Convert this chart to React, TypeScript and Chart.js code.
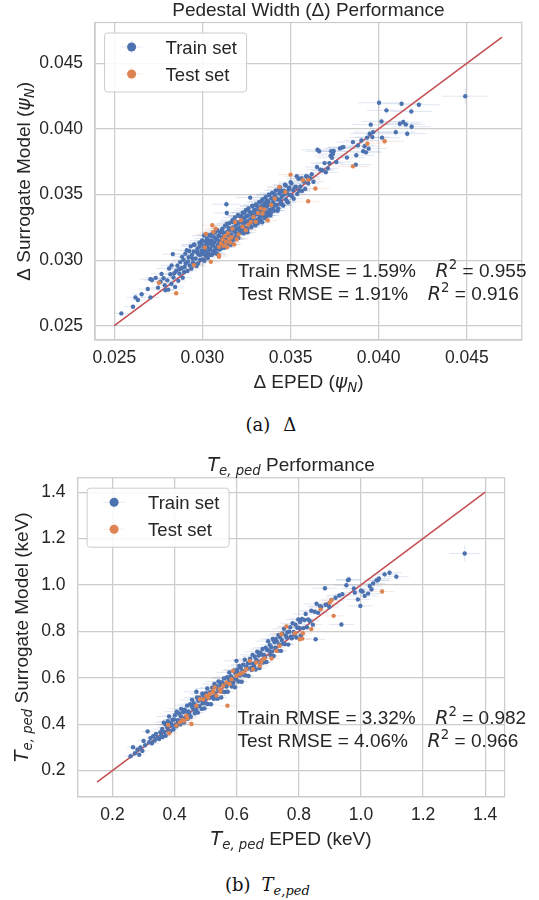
import React, { useEffect, useRef } from 'react';
import { Chart, registerables } from 'chart.js';

Chart.register(...registerables);

// ---------------- DATA: Pedestal width (Delta) ----------------
// each point: [EPED value, surrogate value, x error, y error]
const deltaTrain: number[][] = [
  [0.02540,0.02594,0.0004,0.0001],[0.02606,0.02645,0.0005,0.0002],[0.02620,0.02716,0.0005,0.0002],[0.02634,0.02696,0.0004,0.0001],
  [0.02655,0.02740,0.0005,0.0002],[0.02690,0.02780,0.0005,0.0002],[0.02735,0.02865,0.0006,0.0002],[0.02768,0.02895,0.0006,0.0002],
  [0.02790,0.02770,0.0005,0.0001],[0.02825,0.02960,0.0006,0.0002],[0.02840,0.02900,0.0005,0.0002],[0.02868,0.02930,0.0006,0.0002],
  [0.02885,0.03025,0.0006,0.0002],[0.02896,0.02910,0.0005,0.0002],[0.02903,0.03048,0.0007,0.0002],[0.02918,0.02990,0.0006,0.0002],
  [0.02925,0.03070,0.0006,0.0002],[0.02937,0.02935,0.0005,0.0001],[0.02944,0.03012,0.0006,0.0002],
  [0.02705,0.02716,0.0005,0.0001],[0.02705,0.02855,0.0006,0.0002],[0.02714,0.02848,0.0005,0.0002],[0.02748,0.02790,0.0004,0.0001],
  [0.02762,0.02835,0.0005,0.0002],[0.02779,0.02862,0.0006,0.0002],[0.02786,0.02808,0.0004,0.0001],[0.02801,0.02846,0.0005,0.0002],
  [0.02806,0.02775,0.0005,0.0001],[0.02811,0.02936,0.0007,0.0002],[0.02818,0.02892,0.0006,0.0002],[0.02824,0.02820,0.0004,0.0001],
  [0.02832,0.03046,0.0006,0.0002],[0.02836,0.02868,0.0005,0.0002],[0.02845,0.02796,0.0005,0.0001],[0.02851,0.02918,0.0006,0.0002],
  [0.02858,0.02958,0.0005,0.0002],[0.02863,0.02842,0.0004,0.0001],[0.02870,0.02897,0.0006,0.0002],[0.02874,0.02985,0.0005,0.0002],
  [0.02882,0.02938,0.0006,0.0002],[0.02888,0.02866,0.0005,0.0001],[0.02893,0.03002,0.0006,0.0002],[0.02899,0.02948,0.0005,0.0002],
  [0.02905,0.02975,0.0006,0.0002],[0.02911,0.03076,0.0007,0.0002],[0.02915,0.02918,0.0005,0.0001],[0.02922,0.03022,0.0006,0.0002],
  [0.02928,0.02960,0.0005,0.0002],[0.02934,0.03105,0.0006,0.0002],[0.02940,0.03040,0.0006,0.0002],[0.02946,0.02982,0.0005,0.0001],
  [0.02951,0.03066,0.0006,0.0002],[0.02955,0.03118,0.0007,0.0002],[0.02962,0.03012,0.0005,0.0002],[0.02967,0.02955,0.0005,0.0001],
  [0.02971,0.03085,0.0006,0.0002],[0.02978,0.03045,0.0006,0.0002],[0.02983,0.03132,0.0006,0.0002],[0.02988,0.03002,0.0005,0.0001],
  [0.02994,0.03070,0.0006,0.0002],[0.02998,0.03150,0.0007,0.0002],[0.03003,0.03048,0.0006,0.0002],[0.03007,0.03108,0.0005,0.0002],
  [0.03011,0.02995,0.0005,0.0001],[0.03015,0.03142,0.0006,0.0002],[0.03018,0.03072,0.0006,0.0002],[0.03022,0.03035,0.0005,0.0001],
  [0.03026,0.03165,0.0007,0.0002],[0.03029,0.03098,0.0006,0.0002],[0.03033,0.03058,0.0005,0.0002],[0.03037,0.03128,0.0006,0.0002],
  [0.03040,0.03190,0.0007,0.0002],[0.03044,0.03082,0.0005,0.0002],[0.03047,0.03040,0.0005,0.0001],[0.03051,0.03150,0.0006,0.0002],
  [0.03055,0.03112,0.0006,0.0002],[0.03058,0.03205,0.0007,0.0002],[0.03062,0.03068,0.0005,0.0001],[0.03066,0.03135,0.0006,0.0002],
  [0.03069,0.03172,0.0006,0.0002],[0.03073,0.03095,0.0005,0.0002],[0.03077,0.03052,0.0005,0.0001],[0.03080,0.03158,0.0006,0.0002],
  [0.03084,0.03228,0.0007,0.0002],[0.03088,0.03118,0.0006,0.0002],[0.03091,0.03185,0.0006,0.0002],[0.03095,0.03080,0.0005,0.0001],
  [0.03098,0.03145,0.0006,0.0002],[0.03102,0.03212,0.0006,0.0002],[0.03106,0.03108,0.0005,0.0002],[0.03110,0.03172,0.0006,0.0002],
  [0.03113,0.03240,0.0007,0.0002],[0.03117,0.03135,0.0005,0.0002],[0.03120,0.03095,0.0005,0.0001],[0.03124,0.03198,0.0006,0.0002],
  [0.03128,0.03262,0.0007,0.0002],[0.03131,0.03158,0.0006,0.0002],[0.03136,0.03426,0.0008,0.0003],[0.03138,0.03360,0.0007,0.0002],
  [0.03141,0.03215,0.0006,0.0002],[0.03145,0.03120,0.0005,0.0001],[0.03148,0.03182,0.0006,0.0002],[0.03152,0.03282,0.0007,0.0002],
  [0.03155,0.03148,0.0005,0.0002],[0.03159,0.03232,0.0006,0.0002],[0.03163,0.03195,0.0006,0.0002],[0.03166,0.03140,0.0005,0.0001],
  [0.03170,0.03305,0.0007,0.0002],[0.03173,0.03250,0.0006,0.0002],[0.03177,0.03170,0.0005,0.0002],[0.03181,0.03218,0.0006,0.0002],
  [0.03184,0.03325,0.0007,0.0002],[0.03188,0.03160,0.0005,0.0001],[0.03191,0.03268,0.0006,0.0002],[0.03195,0.03235,0.0006,0.0002],
  [0.03199,0.03190,0.0005,0.0002],[0.03203,0.03342,0.0007,0.0002],[0.03206,0.03285,0.0006,0.0002],[0.03210,0.03210,0.0005,0.0001],
  [0.03213,0.03252,0.0006,0.0002],[0.03217,0.03335,0.0007,0.0002],[0.03221,0.03300,0.0006,0.0002],[0.03224,0.03228,0.0005,0.0002],
  [0.03228,0.03362,0.0007,0.0002],[0.03232,0.03272,0.0006,0.0002],[0.03235,0.03205,0.0005,0.0001],[0.03239,0.03318,0.0006,0.0002],
  [0.03243,0.03245,0.0006,0.0002],[0.03246,0.03380,0.0007,0.0002],[0.03250,0.03290,0.0006,0.0002],[0.03254,0.03232,0.0005,0.0001],
  [0.03257,0.03338,0.0006,0.0002],[0.03261,0.03395,0.0007,0.0002],[0.03265,0.03268,0.0005,0.0002],[0.03271,0.03477,0.0008,0.0002],
  [0.03273,0.03312,0.0006,0.0002],[0.03277,0.03250,0.0005,0.0001],[0.03281,0.03358,0.0006,0.0002],[0.03284,0.03410,0.0007,0.0002],
  [0.03288,0.03290,0.0005,0.0002],[0.03292,0.03332,0.0006,0.0002],[0.03296,0.03270,0.0005,0.0001],[0.03299,0.03378,0.0006,0.0002],
  [0.03303,0.03425,0.0007,0.0002],[0.03306,0.03305,0.0005,0.0002],[0.03310,0.03352,0.0006,0.0002],[0.03314,0.03282,0.0005,0.0001],
  [0.03318,0.03398,0.0006,0.0002],[0.03321,0.03442,0.0007,0.0002],[0.03325,0.03325,0.0005,0.0002],[0.03329,0.03370,0.0006,0.0002],
  [0.03332,0.03300,0.0005,0.0001],[0.03336,0.03415,0.0006,0.0002],[0.03340,0.03462,0.0007,0.0002],[0.03343,0.03345,0.0005,0.0002],
  [0.03347,0.03390,0.0006,0.0002],[0.03351,0.03322,0.0005,0.0001],[0.03354,0.03432,0.0006,0.0002],[0.03358,0.03480,0.0007,0.0002],
  [0.03362,0.03362,0.0005,0.0002],[0.03365,0.03408,0.0006,0.0002],[0.03369,0.03340,0.0005,0.0001],[0.03373,0.03450,0.0006,0.0002],
  [0.03376,0.03498,0.0007,0.0002],[0.03380,0.03382,0.0005,0.0002],[0.03384,0.03425,0.0006,0.0002],[0.03387,0.03358,0.0005,0.0001],
  [0.03391,0.03470,0.0006,0.0002],[0.03395,0.03512,0.0007,0.0002],[0.03398,0.03400,0.0005,0.0002],[0.03402,0.03442,0.0006,0.0002],
  [0.03407,0.03378,0.0005,0.0001],[0.03412,0.03490,0.0006,0.0002],[0.03416,0.03532,0.0007,0.0002],[0.03421,0.03420,0.0005,0.0002],
  [0.03426,0.03462,0.0006,0.0002],[0.03431,0.03395,0.0005,0.0001],[0.03436,0.03508,0.0006,0.0002],[0.03441,0.03555,0.0007,0.0002],
  [0.03446,0.03440,0.0005,0.0002],[0.03451,0.03485,0.0006,0.0002],[0.03457,0.03418,0.0005,0.0001],[0.03462,0.03530,0.0006,0.0002],
  [0.03468,0.03575,0.0007,0.0002],[0.03474,0.03462,0.0005,0.0002],[0.03480,0.03510,0.0006,0.0002],[0.03486,0.03440,0.0005,0.0001],
  [0.03492,0.03552,0.0006,0.0002],[0.03500,0.03595,0.0007,0.0002],[0.03508,0.03488,0.0005,0.0002],[0.03515,0.03535,0.0006,0.0002],
  [0.03530,0.03560,0.0006,0.0002],[0.03538,0.03505,0.0005,0.0001],[0.03545,0.03620,0.0007,0.0002],[0.03556,0.03562,0.0006,0.0002],
  [0.03565,0.03528,0.0005,0.0002],[0.03575,0.03600,0.0006,0.0002],[0.03588,0.03640,0.0007,0.0002],[0.03600,0.03585,0.0006,0.0002],
  [0.03610,0.03625,0.0006,0.0002],[0.03620,0.03655,0.0007,0.0002],[0.03630,0.03598,0.0006,0.0002],
  // denser core
  [0.02952,0.03117,0.0007,0.0002],[0.02959,0.02967,0.0005,0.0002],[0.02970,0.03061,0.0006,0.0002],[0.02975,0.02975,0.0005,0.0001],
  [0.02984,0.03102,0.0006,0.0002],[0.02986,0.03038,0.0005,0.0002],[0.02992,0.03132,0.0007,0.0002],[0.03001,0.03006,0.0005,0.0001],
  [0.03004,0.03073,0.0006,0.0002],[0.03009,0.03187,0.0007,0.0002],[0.03016,0.03037,0.0005,0.0002],[0.03021,0.03113,0.0006,0.0002],
  [0.03031,0.03017,0.0005,0.0001],[0.03036,0.03148,0.0006,0.0002],[0.03043,0.03086,0.0005,0.0002],[0.03049,0.03186,0.0007,0.0002],
  [0.03053,0.03040,0.0005,0.0001],[0.03060,0.03120,0.0006,0.0002],[0.03064,0.03055,0.0005,0.0002],[0.03071,0.03211,0.0007,0.0002],
  [0.03075,0.03084,0.0005,0.0002],[0.03082,0.03158,0.0006,0.0002],[0.03086,0.03045,0.0005,0.0001],[0.03093,0.03189,0.0006,0.0002],
  [0.03097,0.03137,0.0006,0.0002],[0.03104,0.03086,0.0005,0.0002],[0.03108,0.03223,0.0007,0.0002],[0.03115,0.03134,0.0005,0.0002],
  [0.03119,0.03210,0.0006,0.0002],[0.03126,0.03096,0.0005,0.0001],[0.03133,0.03196,0.0006,0.0002],[0.03139,0.03275,0.0007,0.0002],
  [0.03143,0.03143,0.0005,0.0002],[0.03149,0.03246,0.0006,0.0002],[0.03157,0.03184,0.0006,0.0002],[0.03161,0.03117,0.0005,0.0001],
  [0.03168,0.03239,0.0006,0.0002],[0.03172,0.03290,0.0007,0.0002],[0.03179,0.03160,0.0005,0.0002],[0.03183,0.03231,0.0006,0.0002],
  [0.03189,0.03293,0.0007,0.0002],[0.03194,0.03197,0.0005,0.0002],[0.03201,0.03340,0.0007,0.0002],[0.03204,0.03168,0.0005,0.0001],
  [0.03211,0.03290,0.0006,0.0002],[0.03216,0.03238,0.0006,0.0002],[0.03222,0.03334,0.0007,0.0002],[0.03227,0.03210,0.0005,0.0001],
  [0.03233,0.03286,0.0006,0.0002],[0.03238,0.03362,0.0007,0.0002],[0.03244,0.03246,0.0005,0.0002],[0.03249,0.03335,0.0006,0.0002],
  [0.03256,0.03212,0.0005,0.0001],[0.03262,0.03298,0.0006,0.0002],[0.03268,0.03368,0.0007,0.0002],[0.03272,0.03257,0.0005,0.0002],
  [0.03279,0.03347,0.0006,0.0002],[0.03283,0.03415,0.0007,0.0002],[0.03289,0.03296,0.0005,0.0002],[0.03294,0.03383,0.0006,0.0002],
  [0.03301,0.03265,0.0005,0.0001],[0.03305,0.03352,0.0006,0.0002],[0.03311,0.03411,0.0007,0.0002],[0.03317,0.03297,0.0005,0.0002],
  [0.03323,0.03373,0.0006,0.0002],[0.03328,0.03332,0.0005,0.0002],[0.03334,0.03448,0.0007,0.0002],[0.03339,0.03288,0.0005,0.0001],
  [0.03345,0.03412,0.0006,0.0002],[0.03352,0.03380,0.0006,0.0002],[0.03357,0.03325,0.0005,0.0001],[0.03363,0.03453,0.0007,0.0002],
  [0.03368,0.03361,0.0005,0.0002],[0.03374,0.03421,0.0006,0.0002],[0.03379,0.03496,0.0007,0.0002],[0.03386,0.03341,0.0005,0.0001],
  [0.03391,0.03423,0.0006,0.0002],[0.03397,0.03471,0.0006,0.0002],[0.03403,0.03378,0.0005,0.0002],[0.03409,0.03504,0.0007,0.0002],
  [0.03414,0.03417,0.0005,0.0002],[0.03421,0.03470,0.0006,0.0002],[0.03427,0.03376,0.0005,0.0001],[0.03433,0.03537,0.0007,0.0002],
  [0.03439,0.03462,0.0006,0.0002],[0.03445,0.03428,0.0005,0.0002],[0.03452,0.03526,0.0006,0.0002],[0.03459,0.03416,0.0005,0.0001],
  [0.03466,0.03502,0.0006,0.0002],[0.03473,0.03569,0.0007,0.0002],[0.03481,0.03446,0.0005,0.0002],[0.03489,0.03539,0.0006,0.0002],
  [0.03497,0.03497,0.0005,0.0002],[0.03505,0.03585,0.0007,0.0002],[0.03518,0.03468,0.0005,0.0002],[0.03526,0.03556,0.0006,0.0002],
  [0.03535,0.03640,0.0007,0.0002],[0.03549,0.03529,0.0006,0.0002],[0.03562,0.03622,0.0006,0.0002],[0.03583,0.03543,0.0006,0.0002],
  [0.03596,0.03636,0.0007,0.0002],
  // sparse upper part
  [0.03653,0.03842,0.0009,0.0002],[0.03662,0.03830,0.0008,0.0002],[0.03650,0.03710,0.0007,0.0002],[0.03668,0.03690,0.0008,0.0002],
  [0.03680,0.03685,0.0006,0.0002],[0.03693,0.03740,0.0008,0.0002],[0.03700,0.03670,0.0007,0.0002],[0.03712,0.03700,0.0006,0.0002],
  [0.03720,0.03740,0.0008,0.0002],[0.03727,0.03795,0.0009,0.0002],[0.03735,0.03780,0.0008,0.0002],[0.03740,0.03810,0.0008,0.0002],
  [0.03730,0.03830,0.0009,0.0002],[0.03745,0.03832,0.0008,0.0002],[0.03760,0.03748,0.0008,0.0002],[0.03780,0.03852,0.0009,0.0002],
  [0.03790,0.03858,0.0008,0.0002],[0.03800,0.03862,0.0009,0.0002],[0.03820,0.03782,0.0010,0.0002],[0.03854,0.03900,0.0009,0.0002],
  [0.03870,0.03728,0.0009,0.0002],[0.03873,0.03800,0.0010,0.0002],[0.03882,0.03875,0.0009,0.0002],[0.03902,0.03913,0.0010,0.0003],
  [0.03912,0.03830,0.0010,0.0002],[0.03920,0.03868,0.0009,0.0002],[0.03928,0.03822,0.0009,0.0002],[0.03934,0.03934,0.0010,0.0003],
  [0.03943,0.03850,0.0010,0.0002],[0.03949,0.03964,0.0011,0.0003],[0.03955,0.04033,0.0011,0.0003],[0.03964,0.03938,0.0010,0.0003],
  [0.03968,0.03976,0.0011,0.0003],[0.04002,0.04200,0.0012,0.0004],[0.04016,0.04058,0.0011,0.0003],[0.04019,0.03934,0.0010,0.0003],
  [0.04044,0.04142,0.0011,0.0003],[0.04097,0.03976,0.0011,0.0003],[0.04120,0.04040,0.0011,0.0003],[0.04130,0.04193,0.0012,0.0003],
  [0.04139,0.04053,0.0011,0.0003],[0.04154,0.04035,0.0011,0.0003],[0.04162,0.03964,0.0011,0.0003],[0.04185,0.04134,0.0012,0.0003],
  [0.04187,0.04017,0.0011,0.0003],[0.04228,0.04185,0.0012,0.0003],[0.04491,0.04250,0.0013,0.0006],
];
const deltaTest: number[][] = [
  [0.02753,0.02827,0.0005,0.0002],[0.02851,0.02747,0.0005,0.0001],[0.02952,0.02962,0.0006,0.0002],[0.03014,0.03097,0.0006,0.0002],
  [0.03020,0.03200,0.0006,0.0002],[0.03048,0.02987,0.0005,0.0002],[0.03056,0.03266,0.0006,0.0002],[0.03062,0.03215,0.0006,0.0002],
  [0.03075,0.03240,0.0006,0.0002],[0.03093,0.03038,0.0005,0.0002],[0.03094,0.03101,0.0006,0.0002],[0.03094,0.03025,0.0005,0.0002],
  [0.03105,0.03130,0.0006,0.0002],[0.03115,0.03160,0.0006,0.0002],[0.03120,0.03110,0.0005,0.0002],[0.03128,0.03185,0.0006,0.0002],
  [0.03135,0.03140,0.0006,0.0002],[0.03140,0.03100,0.0005,0.0002],[0.03145,0.03205,0.0006,0.0002],[0.03151,0.03165,0.0006,0.0002],
  [0.03158,0.03135,0.0005,0.0002],[0.03165,0.03175,0.0006,0.0002],[0.03170,0.03240,0.0006,0.0002],[0.03180,0.03120,0.0005,0.0002],
  [0.03185,0.03290,0.0006,0.0002],[0.03195,0.03160,0.0006,0.0002],[0.03205,0.03195,0.0006,0.0002],[0.03218,0.03304,0.0006,0.0002],
  [0.03228,0.03255,0.0006,0.0002],[0.03246,0.03228,0.0006,0.0002],[0.03260,0.03270,0.0006,0.0002],[0.03275,0.03292,0.0006,0.0002],
  [0.03290,0.03330,0.0006,0.0002],[0.03303,0.03292,0.0006,0.0002],[0.03315,0.03360,0.0006,0.0002],[0.03330,0.03395,0.0006,0.0002],
  [0.03341,0.03356,0.0006,0.0002],[0.03350,0.03386,0.0006,0.0002],[0.03370,0.03304,0.0006,0.0002],[0.03390,0.03420,0.0006,0.0002],
  [0.03410,0.03470,0.0006,0.0002],[0.03436,0.03558,0.0007,0.0002],[0.03470,0.03520,0.0007,0.0002],[0.03500,0.03652,0.0007,0.0002],
  [0.03570,0.03610,0.0007,0.0002],[0.03600,0.03449,0.0007,0.0002],[0.03600,0.03614,0.0007,0.0002],[0.03641,0.03546,0.0008,0.0002],
  [0.03854,0.03715,0.0009,0.0002],[0.03936,0.03888,0.0010,0.0003],[0.04034,0.03906,0.0011,0.0003],
];
const deltaIdeal = [0.025, 0.047];
const deltaTicks = [0.025, 0.03, 0.035, 0.04, 0.045];
const deltaLimits = [0.02391, 0.04812];
const deltaRmse = ['1.59%', '1.91%'];
const deltaR2 = ['0.955', '0.916'];

// ---------------- DATA: Te,ped ----------------
const teTrain: number[][] = [
  [0.258,0.262,0.02,0.01],[0.266,0.301,0.02,0.01],[0.272,0.275,0.02,0.01],[0.280,0.290,0.02,0.01],[0.286,0.268,0.02,0.01],
  [0.290,0.300,0.02,0.01],[0.296,0.285,0.02,0.01],[0.300,0.328,0.02,0.01],[0.305,0.310,0.02,0.01],[0.313,0.369,0.02,0.01],
  [0.318,0.322,0.02,0.01],[0.322,0.340,0.02,0.01],[0.327,0.318,0.02,0.01],[0.331,0.348,0.02,0.01],[0.336,0.330,0.02,0.01],
  [0.340,0.358,0.02,0.01],[0.345,0.342,0.02,0.01],[0.350,0.336,0.02,0.01],[0.354,0.365,0.02,0.01],[0.358,0.350,0.02,0.01],
  [0.360,0.379,0.03,0.01],[0.361,0.345,0.02,0.01],[0.365,0.407,0.03,0.01],[0.367,0.366,0.02,0.01],[0.370,0.399,0.03,0.01],
  [0.371,0.350,0.02,0.01],[0.376,0.386,0.03,0.01],[0.378,0.413,0.03,0.01],[0.381,0.370,0.02,0.01],[0.382,0.433,0.04,0.01],
  [0.386,0.370,0.02,0.01],[0.388,0.404,0.03,0.01],[0.391,0.395,0.03,0.01],[0.393,0.419,0.03,0.01],[0.396,0.378,0.02,0.01],
  [0.398,0.420,0.03,0.01],[0.401,0.439,0.04,0.01],[0.402,0.397,0.02,0.01],[0.406,0.391,0.02,0.01],[0.407,0.454,0.04,0.01],
  [0.410,0.417,0.03,0.01],[0.413,0.405,0.02,0.01],[0.414,0.446,0.03,0.01],[0.418,0.400,0.02,0.01],[0.420,0.433,0.03,0.01],
  [0.421,0.466,0.04,0.01],[0.425,0.426,0.03,0.01],[0.427,0.451,0.03,0.01],[0.430,0.408,0.02,0.01],[0.432,0.463,0.03,0.01],
  [0.435,0.422,0.02,0.01],[0.437,0.455,0.03,0.01],[0.440,0.480,0.04,0.01],[0.442,0.423,0.02,0.01],[0.445,0.454,0.03,0.01],
  [0.447,0.444,0.03,0.01],[0.450,0.486,0.04,0.01],[0.452,0.432,0.02,0.01],[0.455,0.476,0.03,0.01],[0.456,0.505,0.04,0.01],
  [0.460,0.465,0.03,0.01],[0.462,0.490,0.03,0.01],[0.465,0.447,0.02,0.01],[0.467,0.481,0.03,0.01],[0.470,0.540,0.04,0.01],
  [0.470,0.461,0.02,0.01],[0.472,0.515,0.04,0.01],[0.475,0.450,0.02,0.01],[0.476,0.501,0.03,0.01],[0.480,0.478,0.03,0.01],
  [0.481,0.514,0.03,0.01],[0.484,0.503,0.03,0.01],[0.487,0.466,0.02,0.01],[0.489,0.531,0.04,0.01],[0.491,0.490,0.03,0.01],
  [0.494,0.523,0.03,0.01],[0.496,0.468,0.02,0.01],[0.498,0.508,0.03,0.01],[0.501,0.534,0.04,0.01],[0.502,0.489,0.02,0.01],
  [0.505,0.554,0.04,0.01],[0.507,0.487,0.02,0.01],[0.509,0.523,0.03,0.01],[0.512,0.514,0.03,0.01],[0.514,0.538,0.03,0.01],
  [0.517,0.486,0.02,0.01],[0.518,0.538,0.03,0.01],[0.521,0.557,0.04,0.01],[0.523,0.516,0.03,0.01],[0.526,0.509,0.02,0.01],
  [0.528,0.573,0.04,0.01],[0.530,0.535,0.03,0.01],[0.533,0.523,0.03,0.01],[0.534,0.564,0.03,0.01],[0.538,0.510,0.02,0.01],
  [0.540,0.551,0.03,0.01],[0.541,0.584,0.04,0.01],[0.545,0.544,0.03,0.01],[0.547,0.569,0.03,0.01],[0.550,0.515,0.02,0.01],
  [0.552,0.581,0.03,0.01],[0.555,0.540,0.02,0.01],[0.557,0.573,0.03,0.01],[0.559,0.597,0.04,0.01],[0.562,0.539,0.02,0.01],
  [0.564,0.571,0.03,0.01],[0.567,0.562,0.03,0.01],[0.569,0.603,0.04,0.01],[0.571,0.540,0.02,0.01],[0.574,0.593,0.03,0.01],
  [0.576,0.623,0.04,0.01],[0.579,0.582,0.03,0.01],[0.581,0.607,0.03,0.01],[0.584,0.562,0.02,0.01],[0.586,0.598,0.03,0.01],
  [0.589,0.578,0.03,0.01],[0.591,0.632,0.04,0.01],[0.594,0.559,0.02,0.01],[0.596,0.619,0.03,0.01],[0.598,0.594,0.03,0.01],
  [0.599,0.673,0.04,0.01],[0.601,0.635,0.04,0.01],[0.603,0.623,0.03,0.01],[0.606,0.584,0.02,0.01],[0.608,0.651,0.04,0.01],
  [0.611,0.611,0.03,0.01],[0.613,0.643,0.03,0.01],[0.616,0.583,0.02,0.01],[0.618,0.629,0.03,0.01],[0.621,0.657,0.04,0.01],
  [0.623,0.613,0.02,0.01],[0.626,0.678,0.04,0.01],[0.628,0.611,0.02,0.01],[0.631,0.648,0.03,0.01],[0.633,0.638,0.03,0.01],
  [0.636,0.663,0.03,0.01],[0.638,0.608,0.02,0.01],[0.641,0.664,0.03,0.01],[0.643,0.682,0.04,0.01],[0.646,0.642,0.03,0.01],
  [0.648,0.634,0.02,0.01],[0.651,0.699,0.04,0.01],[0.653,0.661,0.03,0.01],[0.656,0.649,0.03,0.01],[0.658,0.691,0.04,0.01],
  [0.661,0.636,0.02,0.01],[0.663,0.677,0.03,0.01],[0.666,0.712,0.04,0.01],[0.668,0.670,0.03,0.01],[0.671,0.696,0.03,0.01],
  [0.673,0.642,0.02,0.01],[0.676,0.708,0.03,0.01],[0.678,0.666,0.03,0.01],[0.681,0.700,0.03,0.01],[0.683,0.724,0.04,0.01],
  [0.686,0.666,0.02,0.01],[0.688,0.698,0.03,0.01],[0.691,0.689,0.03,0.01],[0.693,0.730,0.04,0.01],[0.696,0.668,0.02,0.01],
  [0.698,0.720,0.03,0.01],[0.701,0.758,0.04,0.01],[0.704,0.717,0.03,0.01],[0.706,0.742,0.03,0.01],[0.709,0.697,0.02,0.01],
  [0.711,0.733,0.03,0.01],[0.714,0.713,0.03,0.01],[0.716,0.767,0.04,0.01],[0.719,0.694,0.02,0.01],[0.721,0.754,0.03,0.01],
  [0.724,0.730,0.03,0.01],[0.726,0.767,0.04,0.01],[0.729,0.756,0.03,0.01],[0.732,0.717,0.02,0.01],[0.734,0.784,0.04,0.01],
  [0.737,0.744,0.03,0.01],[0.739,0.776,0.03,0.01],[0.742,0.716,0.02,0.01],[0.745,0.763,0.03,0.01],[0.747,0.790,0.04,0.01],
  [0.750,0.747,0.03,0.01],[0.752,0.811,0.04,0.01],[0.755,0.745,0.02,0.01],[0.758,0.782,0.03,0.01],[0.761,0.773,0.03,0.01],
  [0.763,0.797,0.03,0.01],[0.766,0.743,0.02,0.01],[0.769,0.799,0.03,0.01],[0.772,0.818,0.04,0.01],[0.774,0.777,0.03,0.01],
  [0.777,0.770,0.02,0.01],[0.780,0.835,0.04,0.01],[0.783,0.798,0.03,0.01],[0.786,0.786,0.03,0.01],[0.789,0.829,0.04,0.01],
  [0.792,0.774,0.02,0.01],[0.795,0.816,0.03,0.01],[0.798,0.851,0.04,0.01],[0.801,0.815,0.03,0.01],[0.804,0.841,0.03,0.01],
  [0.807,0.783,0.02,0.01],[0.810,0.854,0.04,0.01],[0.814,0.814,0.03,0.01],[0.818,0.849,0.03,0.01],[0.822,0.875,0.04,0.01],
  [0.826,0.818,0.03,0.01],[0.830,0.852,0.03,0.01],[0.835,0.845,0.03,0.01],[0.840,0.889,0.04,0.01],[0.845,0.829,0.03,0.01],
  [0.851,0.885,0.04,0.01],[0.854,0.766,0.03,0.01],[0.857,0.919,0.04,0.01],[0.862,0.880,0.03,0.01],[0.868,0.909,0.04,0.01],
  [0.872,0.905,0.04,0.01],[0.884,0.986,0.04,0.015],[0.886,0.915,0.03,0.01],[0.893,0.917,0.04,0.01],[0.898,0.905,0.03,0.01],
  [0.905,0.935,0.04,0.01],[0.918,0.945,0.03,0.01],[0.930,0.955,0.04,0.01],[0.937,0.830,0.04,0.01],[0.940,0.960,0.03,0.01],
  [0.953,0.999,0.04,0.015],[0.958,1.021,0.04,0.015],[0.961,1.024,0.04,0.015],[0.977,0.985,0.04,0.01],[0.980,0.967,0.04,0.01],
  [0.990,0.938,0.04,0.01],[0.998,0.910,0.04,0.01],[1.000,0.975,0.04,0.01],[1.005,0.972,0.03,0.01],[1.012,0.953,0.04,0.01],
  [1.023,0.963,0.04,0.01],[1.028,0.996,0.04,0.015],[1.034,0.982,0.04,0.01],[1.039,1.007,0.04,0.015],[1.050,1.020,0.04,0.015],
  [1.054,1.020,0.04,0.015],[1.058,1.028,0.04,0.015],[1.076,1.046,0.04,0.015],[1.092,1.053,0.04,0.015],[1.114,1.036,0.04,0.015],
  [1.334,1.136,0.05,0.035],
];
const teTest: number[][] = [
  [0.382,0.361,0.03,0.01],[0.379,0.397,0.03,0.01],[0.406,0.394,0.03,0.01],[0.417,0.408,0.03,0.01],[0.425,0.418,0.03,0.01],
  [0.430,0.415,0.03,0.01],[0.438,0.437,0.03,0.01],[0.441,0.425,0.03,0.01],[0.454,0.401,0.03,0.01],[0.470,0.480,0.03,0.01],
  [0.481,0.508,0.03,0.01],[0.492,0.508,0.03,0.01],[0.502,0.523,0.03,0.01],[0.508,0.515,0.03,0.01],[0.513,0.530,0.03,0.01],
  [0.524,0.537,0.03,0.01],[0.524,0.544,0.03,0.01],[0.529,0.559,0.03,0.01],[0.535,0.523,0.03,0.01],[0.545,0.551,0.03,0.01],
  [0.548,0.540,0.03,0.01],[0.556,0.566,0.03,0.01],[0.567,0.580,0.03,0.01],[0.570,0.480,0.03,0.01],[0.577,0.573,0.03,0.01],
  [0.583,0.594,0.03,0.01],[0.588,0.630,0.03,0.01],[0.599,0.609,0.03,0.01],[0.610,0.616,0.03,0.01],[0.620,0.623,0.03,0.01],
  [0.631,0.637,0.03,0.01],[0.642,0.673,0.03,0.01],[0.652,0.637,0.03,0.01],[0.663,0.666,0.03,0.01],[0.674,0.652,0.03,0.01],
  [0.679,0.669,0.03,0.01],[0.690,0.683,0.03,0.01],[0.712,0.683,0.03,0.01],[0.728,0.716,0.03,0.01],[0.738,0.738,0.03,0.01],
  [0.744,0.788,0.03,0.01],[0.760,0.821,0.03,0.01],[0.787,0.792,0.03,0.01],[0.803,0.766,0.03,0.01],[0.811,0.769,0.03,0.01],
  [0.813,0.792,0.03,0.01],[0.840,0.810,0.03,0.01],[0.870,0.895,0.03,0.01],[0.899,0.924,0.03,0.01],[0.905,0.934,0.03,0.01],
  [0.912,0.867,0.03,0.01],[1.068,0.972,0.04,0.01],
];
const teIdeal = [0.15, 1.4];
const teTicks = [0.2, 0.4, 0.6, 0.8, 1.0, 1.2, 1.4];
const teLimits = [0.0875, 1.4625];
const teRmse = ['3.32%', '4.06%'];
const teR2 = ['0.982', '0.966'];

const legendLabels = ['Train set', 'Test set'];

// ---------------- STYLE ----------------
const BLUE = '#4C72B0';
const ORANGE = '#DD8452';
const RED = '#C44E52';
const GRID = '#cccccc';
const TEXT = '#262626';
const SANS = '"Liberation Sans", Arial, sans-serif';
const MATH = '"DejaVu Sans", sans-serif';

type Seg = { t: string; it?: boolean; sub?: boolean; sup?: boolean };

function segFont(s: Seg, size: number) {
  const sz = s.sub || s.sup ? size * 0.7 : size;
  const fam = s.it || s.sub || s.sup ? MATH : SANS;
  return `${s.it ? 'italic ' : ''}${sz}px ${fam}`;
}

function drawRich(ctx: CanvasRenderingContext2D, segs: Seg[], x: number, y: number, size: number, align: 'left' | 'center', rotate = false) {
  ctx.save();
  ctx.translate(x, y);
  if (rotate) ctx.rotate(-Math.PI / 2);
  ctx.textBaseline = 'alphabetic';
  ctx.textAlign = 'left';
  ctx.fillStyle = TEXT;
  let total = 0;
  const widths = segs.map((s) => {
    ctx.font = segFont(s, size);
    const w = ctx.measureText(s.t).width;
    total += w;
    return w;
  });
  let cx = align === 'center' ? -total / 2 : 0;
  segs.forEach((s, i) => {
    ctx.font = segFont(s, size);
    const dy = s.sub ? size * 0.22 : s.sup ? -size * 0.42 : 0;
    ctx.fillText(s.t, cx, dy);
    cx += widths[i];
  });
  ctx.restore();
}

function rgba(hex: string, a: number) {
  const n = parseInt(hex.slice(1), 16);
  return `rgba(${(n >> 16) & 255},${(n >> 8) & 255},${n & 255},${a})`;
}

interface Panel {
  train: number[][];
  test: number[][];
  ideal: number[];
  ticks: number[];
  limits: number[];
  decimals: number;
  rmse: string[];
  r2: string[];
  annAt: number[];
  area: { l: number; r: number; t: number; b: number };
  height: number;
  title: Seg[];
  xLabel: Seg[];
  yLabel: Seg[];
  yLabelX: number;
}

const W = 539;
const XH = 40;

function makeChart(canvas: HTMLCanvasElement, p: Panel) {
  const overlay = {
    id: 'overlay',
    beforeDatasetsDraw(chart: any) {
      const { ctx, chartArea: ca } = chart;
      const xs = chart.scales.x;
      const ys = chart.scales.y;
      ctx.save();
      ctx.beginPath();
      ctx.rect(ca.left, ca.top, ca.right - ca.left, ca.bottom - ca.top);
      ctx.clip();
      ctx.lineWidth = 1;
      const drawSet = (pts: number[][], color: string) => {
        ctx.strokeStyle = rgba(color, 0.17);
        ctx.beginPath();
        pts.forEach((q) => {
          const px = xs.getPixelForValue(q[0]);
          const py = ys.getPixelForValue(q[1]);
          ctx.moveTo(xs.getPixelForValue(q[0] - q[2]), py);
          ctx.lineTo(xs.getPixelForValue(q[0] + q[2]), py);
          ctx.moveTo(px, ys.getPixelForValue(q[1] - q[3]));
          ctx.lineTo(px, ys.getPixelForValue(q[1] + q[3]));
        });
        ctx.stroke();
      };
      drawSet(p.train, BLUE);
      drawSet(p.test, ORANGE);
      ctx.restore();
    },
    afterDraw(chart: any) {
      const { ctx, chartArea: ca } = chart;
      const xs = chart.scales.x;
      const ys = chart.scales.y;
      ctx.save();
      ctx.strokeStyle = GRID;
      ctx.lineWidth = 1.25;
      ctx.strokeRect(ca.left, ca.top, ca.right - ca.left, ca.bottom - ca.top);
      ctx.restore();

      // legend
      const bx = ca.left + 9.5;
      const by = ca.top + 10.5;
      ctx.save();
      ctx.fillStyle = 'rgba(255,255,255,0.85)';
      ctx.strokeStyle = GRID;
      ctx.lineWidth = 1;
      ctx.beginPath();
      (ctx as any).roundRect(bx, by, 142, 59, 3);
      ctx.fill();
      ctx.stroke();
      const rows = [
        { label: legendLabels[0], color: BLUE, dy: 14 },
        { label: legendLabels[1], color: ORANGE, dy: 41 },
      ];
      rows.forEach((r) => {
        const mx = bx + 27;
        const my = by + r.dy;
        ctx.strokeStyle = rgba(r.color, 0.15);
        ctx.beginPath();
        ctx.moveTo(mx - 11, my);
        ctx.lineTo(mx + 11, my);
        ctx.moveTo(mx, my - 7);
        ctx.lineTo(mx, my + 7);
        ctx.stroke();
        ctx.fillStyle = r.color;
        ctx.beginPath();
        ctx.arc(mx, my, 4.5, 0, Math.PI * 2);
        ctx.fill();
        ctx.fillStyle = TEXT;
        ctx.font = `18.5px ${SANS}`;
        ctx.textBaseline = 'alphabetic';
        ctx.textAlign = 'left';
        ctx.fillText(r.label, bx + 61, my + 6.6);
      });
      ctx.restore();

      const cxm = (ca.left + ca.right) / 2;
      drawRich(ctx, p.title, cxm, ca.top - 7, 19, 'center');
      drawRich(ctx, p.xLabel, cxm, ca.bottom + 48, 19, 'center');
      drawRich(ctx, p.yLabel, p.yLabelX, (ca.top + ca.bottom) / 2, 19, 'center', true);

      const ax = xs.getPixelForValue(p.annAt[0]);
      const ay = ys.getPixelForValue(p.annAt[1]);
      const line = (name: string, i: number): Seg[] => [
        { t: `${name} RMSE = ${p.rmse[i]}   \u2009` },
        { t: 'R', it: true },
        { t: '2', sup: true },
        { t: ` = ${p.r2[i]}` },
      ];
      drawRich(ctx, line('Train', 0), ax, ay, 19, 'left');
      drawRich(ctx, line('Test', 1), ax, ay + 23, 19, 'left');
    },
  };

  const axisCommon = (isX: boolean) => ({
    type: 'linear' as const,
    min: p.limits[0],
    max: p.limits[1],
    afterBuildTicks: (s: any) => {
      s.ticks = p.ticks.map((v) => ({ value: v }));
    },
    afterFit: (s: any) => {
      if (isX) s.height = XH;
      else s.width = p.area.l;
    },
    ticks: {
      callback: (v: any) => Number(v).toFixed(p.decimals),
      font: { family: SANS, size: 17.5 },
      color: TEXT,
      padding: isX ? 8 : 12,
      maxRotation: 0,
      autoSkip: false,
    },
    grid: { color: GRID, lineWidth: 1.25, drawTicks: false },
    border: { color: GRID, width: 1.25 },
  });

  return new Chart(canvas, {
    type: 'scatter',
    data: {
      datasets: [
        {
          label: legendLabels[1],
          data: p.test.map((q) => ({ x: q[0], y: q[1] })),
          backgroundColor: ORANGE,
          pointRadius: 2.2,
          pointBorderWidth: 0,
          order: 0,
        } as any,
        {
          label: legendLabels[0],
          data: p.train.map((q) => ({ x: q[0], y: q[1] })),
          backgroundColor: BLUE,
          pointRadius: 2.2,
          pointBorderWidth: 0,
          order: 1,
        },
        {
          type: 'line',
          label: 'ideal',
          data: p.ideal.map((v) => ({ x: v, y: v })),
          borderColor: RED,
          borderWidth: 1.5,
          pointRadius: 0,
          fill: false,
          order: 2,
        },
      ],
    },
    options: {
      responsive: false,
      animation: false,
      devicePixelRatio: 1,
      layout: {
        padding: { left: 0, right: W - p.area.r, top: p.area.t, bottom: p.height - p.area.b - XH },
      },
      plugins: { legend: { display: false }, tooltip: { enabled: false }, title: { display: false } },
      scales: { x: axisCommon(true), y: axisCommon(false) } as any,
    },
    plugins: [overlay],
  } as any);
}

const deltaPanel: Panel = {
  train: deltaTrain,
  test: deltaTest,
  ideal: deltaIdeal,
  ticks: deltaTicks,
  limits: deltaLimits,
  decimals: 3,
  rmse: deltaRmse,
  r2: deltaR2,
  annAt: [0.0320, 0.02871],
  area: { l: 95.1, r: 521.8, t: 22.3, b: 340 },
  height: 400,
  title: [{ t: 'Pedestal Width (Δ) Performance' }],
  xLabel: [{ t: 'Δ EPED (' }, { t: 'ψ', it: true }, { t: 'N', it: true, sub: true }, { t: ')' }],
  yLabel: [{ t: 'Δ Surrogate Model (' }, { t: 'ψ', it: true }, { t: 'N', it: true, sub: true }, { t: ')' }],
  yLabelX: 29.5,
};

const tePanel: Panel = {
  train: teTrain,
  test: teTest,
  ideal: teIdeal,
  ticks: teTicks,
  limits: teLimits,
  decimals: 1,
  rmse: teRmse,
  r2: teR2,
  annAt: [0.602, 0.401],
  area: { l: 77.6, r: 504.6, t: 37.7, b: 356.7 },
  height: 420,
  title: [{ t: 'T', it: true }, { t: 'e, ped', it: true, sub: true }, { t: ' Performance' }],
  xLabel: [{ t: 'T', it: true }, { t: 'e, ped', it: true, sub: true }, { t: ' EPED (keV)' }],
  yLabel: [{ t: 'T', it: true }, { t: 'e, ped', it: true, sub: true }, { t: ' Surrogate Model (keV)' }],
  yLabelX: 27.5,
};

function PanelCanvas({ panel, top }: { panel: Panel; top: number }) {
  const ref = useRef<HTMLCanvasElement>(null);
  useEffect(() => {
    if (!ref.current) return;
    const c = makeChart(ref.current, panel);
    return () => c.destroy();
  }, [panel]);
  return (
    <canvas
      ref={ref}
      width={W}
      height={panel.height}
      style={{ position: 'absolute', left: 0, top, width: W, height: panel.height, display: 'block' }}
    />
  );
}

const captionStyle: React.CSSProperties = {
  position: 'absolute',
  fontFamily: '"DejaVu Serif", "Liberation Serif", serif',
  fontSize: 18,
  lineHeight: '21px',
  color: '#111',
  whiteSpace: 'nowrap',
};

export default function App() {
  return (
    <div style={{ position: 'absolute', left: 0, top: 0, width: W, height: 900, background: '#fff', overflow: 'hidden' }}>
      <PanelCanvas panel={deltaPanel} top={0} />
      <div style={{ ...captionStyle, left: 245.5, top: 414 }}>
        (a)<span style={{ marginLeft: 13 }}>Δ</span>
      </div>
      <PanelCanvas panel={tePanel} top={440} />
      <div style={{ ...captionStyle, left: 225, top: 874 }}>
        (b)<span style={{ marginLeft: 11, fontStyle: 'italic' }}>T</span>
        <span style={{ fontStyle: 'italic', fontSize: 13, position: 'relative', top: 4 }}>e,ped</span>
      </div>
    </div>
  );
}
